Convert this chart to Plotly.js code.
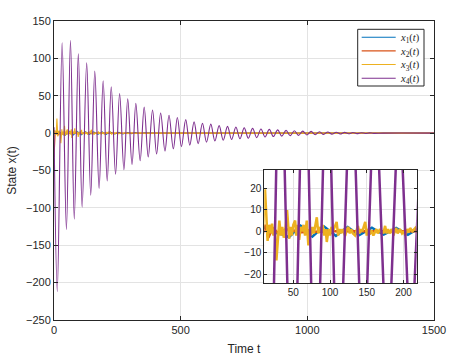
<!DOCTYPE html>
<html>
<head>
<meta charset="utf-8">
<script src="https://cdn.plot.ly/plotly-3.0.1.min.js"></script>
<style>
  html, body { margin: 0; padding: 0; background: #fff; }
  #plot { width: 464px; height: 361px; }
</style>
</head>
<body>
<div id="plot"></div>
<script>
// x1(t) - blue, small oscillation
const t1 = [0, 5, 12, 20, 28, 36, 44, 52, 60, 68, 76, 84, 92, 100, 108, 116, 124, 132, 140, 149, 157, 165, 173, 182, 190, 198, 206, 214, 222, 240, 256, 272, 290, 306, 322, 340, 356, 400, 1500]
const v1 = [0, 1, 2, 0.5, -1, -1.5, -2.8, 0, 2.6, 0, -2.5, 0, 2.2, 0, -2.2, 0, 2, 0, -1.8, 0, 1.7, 0, -1.6, 0, 1.5, 0, -1.7, 0, 1.3, -1.1, 1, -0.9, 0.8, -0.7, 0.6, -0.5, 0.4, 0, 0]

// x2(t) - orange
const t2 = [0, 2, 5, 8, 12, 16, 22, 30, 40, 60, 100, 1500]
const v2 = [-32, -3, 2, -2, 3, -3, 1.5, -1, 1, -0.5, 0, 0]

// x3(t) - yellow, noisy
const t3 = [0, 3, 6, 9, 11.5, 13, 15, 17, 19, 21, 23, 25, 27, 29, 31, 33, 35, 37, 39, 41.5, 43, 44.5, 46, 48, 50, 52.5, 54, 56, 58, 60,
            62, 64, 66, 68.3, 70.5, 72, 74, 76, 78, 80, 82, 84, 86, 88, 90, 92, 94, 95.6, 98, 100, 102, 104, 106, 109, 111, 113, 115, 117, 120.6, 123,
            125, 127, 129, 131, 134, 136, 138, 140, 142, 144, 147.9, 150, 152, 154, 156, 159, 161, 163, 165, 168, 170, 172.8, 175, 177, 179, 181, 184, 186.5, 188, 190,
            192, 195, 198, 200, 202.4, 205, 207, 209, 212, 214, 216, 218, 222, 228, 234, 240, 248, 256, 264, 272, 282, 292, 305, 320, 340, 360, 400, 1500]
const v3 = [0, 4, -3, 2, 19.6, 8, -4.5, 3, -1, 3.5, -2, 1, -13.6, -4, 5, -2, 2, -3, 0, 9.9, 2, -3.5, 2, -2, 3, 5, -2, 3, -4, 2,
            0, 3, -2, 5, -6.6, 1, -2, 2, -1, 3, 6.5, -1, 2, 0, 3, -2, 1, -5, 1, -2, 2, 0, 2, 4.4, -2, 1, -1, 1, -2.2, 1,
            2, -1, 1, -1, -2, 1, 2.5, -1, 1, 0, 4.4, -2, 1, -1.5, 0.5, -2, 0, 1, -1, 1, -0.5, -0.6, 2.5, -1, 1, -1, 1, -2, 0, 1.5,
            -1, 1, -1, 0, -2, 1, -0.5, 1.5, 0, 1, 1.5, 0, 1.5, -1.5, 1.2, -1.2, 1, -1, 0.8, -0.8, 0.6, -0.6, 0.5, -0.4, 0.3, -0.2, 0, 0]

// x4(t) - purple, damped oscillation (extrema)
const t4 = [0, 13, 32, 49, 65, 80, 96, 111, 129, 145, 161, 178, 194, 210, 226, 243, 259, 276, 291, 308,
            323, 340, 356, 372, 389, 405, 421, 438, 454, 471, 487, 503, 520, 536, 553, 569, 586, 602, 619, 635,
            652, 668, 685, 701, 718, 734, 751, 767, 784, 800, 817, 833, 850, 866, 883, 899, 916, 932, 949, 965,
            982, 998, 1015, 1031, 1048, 1064, 1081, 1097, 1114, 1130, 1147, 1163, 1180, 1196, 1213, 1229, 1246, 1262, 1300, 1500]
const v4 = [8, -212, 121, -129, 124, -115, 106, -99, 94, -83, 83, -74, 70, -64, 62, -55, 53, -49, 46, -42,
            40, -37, 35, -32, 31, -28, 27, -24, 24, -21, 21, -18, 18, -16, 15, -14, 13, -12, 12, -10.5,
            10, -9.5, 9, -8.5, 8, -7.5, 7, -6.8, 6.3, -6, 5.6, -5.2, 5, -4.6, 4.3, -4, 3.7, -3.4, 3.2, -3,
            2.7, -2.5, 2.3, -2.1, 1.9, -1.8, 1.6, -1.4, 1.2, -1.1, 1, -0.9, 0.8, -0.7, 0.6, -0.5, 0.4, -0.3, 0, 0]

const names  = ['<i>x</i><sub>1</sub>(<i>t</i>)', '<i>x</i><sub>2</sub>(<i>t</i>)', '<i>x</i><sub>3</sub>(<i>t</i>)', '<i>x</i><sub>4</sub>(<i>t</i>)']
const colors = ['#0072BD', '#D95319', '#EDB120', '#7E2F8E']
const series = [[t1, v1], [t2, v2], [t3, v3], [t4, v4]]

const axis_color = '#262626'
const grid_color = '#e3e3e3'
const sans  = 'Liberation Sans, Arial, sans-serif'
const serif = 'Liberation Serif, DejaVu Serif, serif'

let data = []
series.forEach((s, i) => {
    data.push({
        x: s[0], y: s[1], name: names[i], showlegend: false,
        type: 'scatter', mode: 'lines',
        xaxis: 'x', yaxis: 'y',
        line: { color: colors[i], width: 1.1, shape: i == 3 ? 'spline' : 'linear', smoothing: 1 }
    })
})
series.forEach((s, i) => {
    data.push({
        x: s[0], y: s[1], name: names[i], showlegend: false,
        type: 'scatter', mode: 'lines',
        xaxis: 'x2', yaxis: 'y2',
        line: { color: colors[i], width: 2.5 }
    })
})

// legend box drawn by hand (MATLAB legends are tighter than plotly's)
const leg_x0 = 0.7992, leg_x1 = 0.9737, leg_y0 = 0.7826, leg_y1 = 0.9722
const leg_rows = [0.9458, 0.9, 0.8545, 0.8087]
let shapes = [{
    type: 'rect', xref: 'paper', yref: 'paper',
    x0: leg_x0, x1: leg_x1, y0: leg_y0, y1: leg_y1,
    fillcolor: '#fff', line: { color: axis_color, width: 1 }, layer: 'above'
}]
leg_rows.forEach((y, i) => {
    shapes.push({
        type: 'line', xref: 'paper', yref: 'paper',
        x0: 0.8097, x1: 0.8992, y0: y, y1: y,
        line: { color: colors[i], width: 1.1 }, layer: 'above'
    })
})
// all four labels in one block so the rows keep the tight spacing
const annotations = [{
    xref: 'paper', yref: 'paper', x: 0.9055, y: (leg_rows[0] + leg_rows[3]) / 2 - 0.004,
    xanchor: 'left', yanchor: 'middle', align: 'left', showarrow: false,
    text: names.join('<br>'), font: { family: serif, size: 10.5, color: axis_color }
}]

const base_axis = {
    showline: true, mirror: 'ticks', linecolor: axis_color, linewidth: 1,
    ticks: 'inside', ticklen: 4, tickcolor: axis_color,
    showgrid: true, gridcolor: grid_color, gridwidth: 1,
    zeroline: false,
    tickfont: { family: sans, size: 11, color: axis_color }
}

const layout = {
    width: 464, height: 361,
    margin: { l: 54, r: 30, t: 21, b: 41 },
    paper_bgcolor: '#fff', plot_bgcolor: '#fff',
    showlegend: false,
    shapes: shapes,
    annotations: annotations,
    xaxis: Object.assign({}, base_axis, {
        range: [0, 1500], dtick: 500, domain: [0, 1],
        title: { text: 'Time t', font: { family: sans, size: 12, color: axis_color }, standoff: 9 }
    }),
    yaxis: Object.assign({}, base_axis, {
        range: [-250, 150], dtick: 50, domain: [0, 1],
        title: { text: 'State x(t)', font: { family: sans, size: 12, color: axis_color }, standoff: 6 }
    }),
    xaxis2: Object.assign({}, base_axis, {
        anchor: 'y2', domain: [0.5534, 0.9545],
        range: [10.5, 218], tickvals: [50, 100, 150, 200],
        ticklen: 3,
        tickfont: { family: sans, size: 10, color: axis_color }
    }),
    yaxis2: Object.assign({}, base_axis, {
        anchor: 'x2', domain: [0.1227, 0.5017],
        range: [-24.3, 28.6], tickvals: [-20, -10, 0, 10, 20],
        ticklen: 3,
        tickfont: { family: sans, size: 10, color: axis_color }
    })
}

Plotly.newPlot('plot', data, layout, { staticPlot: true, displayModeBar: false })
</script>
</body>
</html>
